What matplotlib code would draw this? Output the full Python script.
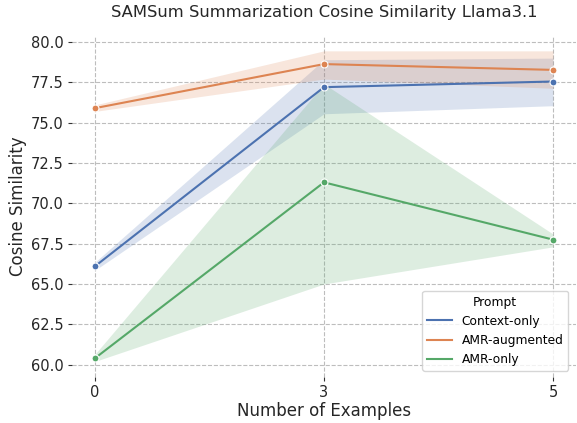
import matplotlib
matplotlib.use("Agg")
import matplotlib.pyplot as plt

# ------------------------
# DATA
# ------------------------
examples = ["0", "3", "5"]

prompts = ["Context-only", "AMR-augmented", "AMR-only"]
colors = ["#4C72B0", "#DD8452", "#55A868"]

context_mean = [66.1, 77.2, 77.55]
context_lo = [65.85, 75.55, 76.05]
context_hi = [66.35, 78.9, 79.0]

amr_aug_mean = [75.9, 78.63, 78.27]
amr_aug_lo = [75.7, 77.7, 77.13]
amr_aug_hi = [76.1, 79.45, 79.45]

amr_only_mean = [60.4, 71.3, 67.75]
amr_only_lo = [60.2, 65.0, 67.3]
amr_only_hi = [60.65, 77.4, 68.1]

means = [context_mean, amr_aug_mean, amr_only_mean]
lows = [context_lo, amr_aug_lo, amr_only_lo]
highs = [context_hi, amr_aug_hi, amr_only_hi]

# ------------------------
# PLOT
# ------------------------
fig = plt.figure(figsize=(5.77, 4.23), dpi=100)
ax = fig.add_axes([0.125, 0.109, 0.873, 0.807])

xpos = list(range(len(examples)))
for name, c, m, lo, hi in zip(prompts, colors, means, lows, highs):
    ax.fill_between(xpos, lo, hi, color=c, alpha=0.2, linewidth=0)
    ax.plot(xpos, m, color=c, linewidth=1.5, marker="o", markersize=5,
            markeredgecolor="white", markeredgewidth=0.8, label=name)

ax.set_xticks(xpos)
ax.set_xticklabels(examples)
ax.set_xlim(-0.1, 2.1)
ax.set_ylim(59.24, 80.4)
ax.set_yticks([60.0, 62.5, 65.0, 67.5, 70.0, 72.5, 75.0, 77.5, 80.0])

ax.grid(True, linestyle="--", color="#bdbdbd", linewidth=0.8)
ax.set_axisbelow(True)
for s in ax.spines.values():
    s.set_visible(False)
ax.tick_params(axis="both", length=3, width=0.8, color="#333333", pad=3,
               labelsize=10.5, labelcolor="#262626")

ax.set_title("SAMSum Summarization Cosine Similarity Llama3.1", fontsize=11.8,
             color="#262626", pad=13)
ax.set_xlabel("Number of Examples", fontsize=12, color="#262626", labelpad=1)
ax.set_ylabel("Cosine Similarity", fontsize=12, color="#262626", labelpad=3)

# legend shows lines only
handles = [plt.Line2D([], [], color=c, linewidth=1.5) for c in colors]
leg = ax.legend(handles, prompts, title="Prompt", loc="lower right", fontsize=8.8,
                title_fontsize=8.8, frameon=True, fancybox=True, edgecolor="#cccccc",
                bbox_to_anchor=(0.997, 0.0))

fig.savefig("out.png", dpi=100)
